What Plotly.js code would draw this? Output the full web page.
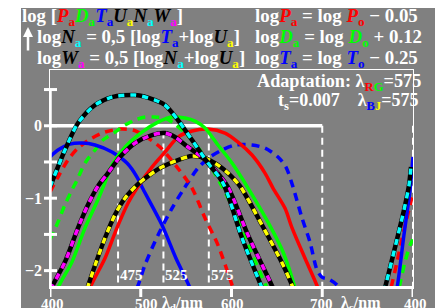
<!DOCTYPE html>
<html><head><meta charset="utf-8">
<script src="https://cdn.plot.ly/plotly-3.0.1.min.js"></script>
<style>body{margin:0;padding:0;background:#fff}#chart{width:435px;height:308px}</style>
</head><body><div id="chart"></div>
<script>
// ---- data (x: wavelength-like axis 400..700 = λd, 700..800 = λc region back to 400) ----
const bS_x = [400, 408.8, 422, 435.3, 449.6, 468.3, 484.8, 495.9, 502.5, 523.4, 538.8, 554.3, 558.7, null, 779, 782.4, 790, 796.7, 800];
const bS_y = [-0.43, -0.335, -0.253, -0.239, -0.266, -0.363, -0.515, -0.708, -0.874, -1.371, -1.83, -2.24, -2.41, null, -2.41, -2.24, -1.51, -0.89, -0.43];

const rD_x = [400, 408.8, 419.8, 430.9, 446.3, 460.6, 477.1, 491.5, 504.7, 521.2, 539.9, 556.5, 570.8, 585.1, 601.7, 606.1, null, 772.4, 775.8, 782.4, 790, 796.7, 800];
const rD_y = [-0.915, -0.708, -0.473, -0.308, -0.17, -0.087, -0.046, -0.059, -0.142, -0.294, -0.57, -0.86, -1.274, -1.647, -2.24, -2.41, null, -2.41, -2.24, -1.88, -1.44, -1.10, -0.92];

const gD_x = [400, 408.8, 416.5, 424.2, 429.8, 438.6, 449.6, 458.4, 471.6, 482.6, 493.7, 504.7, 515.7, 526.7, 537.7, 556.5, 574.1, 596.1, 618.2, 639.1, 644.6, null, 781.3, 784.6, 791.2, 796.7, 800];
const gD_y = [-1.57, -1.33, -1.09, -0.888, -0.75, -0.515, -0.335, -0.197, -0.087, 0.01, 0.079, 0.12, 0.12, 0.106, 0.023, -0.197, -0.501, -0.998, -1.647, -2.24, -2.41, null, -2.41, -2.24, -1.88, -1.65, -1.57];

const bD_x = [488.2, 495.9, 504.7, 519.0, 534.4, 546.6, 563.1, 576.3, 589.5, 603.9, 622.6, 636.9, 651.2, 660.0, 667.8, 677.7, 686.5, 694.2, 699.7, 707.4, 716.3, 721.8];
const bD_y = [-2.41, -2.24, -1.92, -1.51, -1.14, -0.888, -0.584, -0.432, -0.335, -0.266, -0.266, -0.308, -0.432, -0.57, -0.846, -1.274, -1.606, -1.99, -2.09, -2.12, -2.20, -2.34];

const rS_x = [440.8, 444.1, 460.6, 473.8, 485.9, 495.9, 512.4, 526.7, 541.0, 556.5, 574.1, 592.8, 607.2, 622.6, 636.9, 645.7, 659.0, 666.7, 681.0, 695.3, 699.5];
const rS_y = [-2.41, -2.24, -1.83, -1.41, -1.07, -0.86, -0.57, -0.364, -0.156, -0.073, -0.046, -0.101, -0.225, -0.404, -0.653, -0.86, -1.14, -1.41, -1.83, -2.24, -2.41];

const gS_x = [406.6, 408.8, 424.2, 438.6, 451.8, 459.5, 468.3, 482.6, 501.4, 519.0, 534.4, 548.8, 559.8, 570.8, 585.1, 600.6, 618.2, 640.2, 656.7, 670.0, 673.3];
const gS_y = [-2.41, -2.24, -1.88, -1.41, -1.05, -0.819, -0.543, -0.294, -0.087, 0.051, 0.12, 0.106, 0.065, -0.032, -0.266, -0.515, -0.86, -1.33, -1.74, -2.24, -2.41];

const yK_x = [437.5, 440.8, 449.6, 460.6, 471.6, 482.6, 497, 508, 521.2, 541, 556.5, 570.8, 585.1, 596.1, 609.4, 633.6, 656.7, 667.8, 671];
const yK_y = [-2.41, -2.26, -1.93, -1.55, -1.23, -1.0, -0.805, -0.695, -0.584, -0.473, -0.418, -0.446, -0.543, -0.653, -0.833, -1.37, -1.92, -2.24, -2.38];

const mK_x = [394.5, 400, 416.5, 430.9, 441.9, 452.9, 463.9, 477.1, 493.7, 512.4, 526.7, 537.7, 552.1, 567.5, 581.8, 596.1, 618.2, 645.7, 651.2];
const mK_y = [-2.41, -2.27, -1.88, -1.41, -1.09, -0.833, -0.653, -0.432, -0.239, -0.128, -0.101, -0.156, -0.294, -0.432, -0.612, -0.846, -1.51, -2.24, -2.41];

const cK_x = [400, 416.5, 430.9, 449.6, 468.3, 493.7, 515.7, 526.7, 541.0, 556.5, 574.1, 590.6, 611.6, 633.6, 644.6, null, 761.4, 769.1, 783.5, 791.2, 795.6, 797.8];
const cK_y = [-0.846, -0.335, 0.037, 0.286, 0.396, 0.424, 0.355, 0.286, 0.079, -0.197, -0.515, -0.791, -1.55, -2.24, -2.59, null, -2.61, -2.24, -1.51, -1.10, -0.82, -0.57];

const yTickVals = [0, -1, -2];
const yTickText = ['0', '\u22121', '\u22122'];
const yMarks = [0.5, 0, -0.5, -1, -1.5, -2];
const xTickVals = [400, 500, 600, 700, 800];
const xTickText = ['400', '500', '600', '700', '400'];
const xUnitAt = [500, 700];
const xUnitText = ['\u03bb<sub>d</sub>/nm', '\u03bb<sub>c</sub>/nm'];
const refLines = [475, 525, 575];
const refLabels = ['475', '525', '575'];

// ---- geometry helpers (pixel -> paper) ----
const L = 50, T = 70, W = 363, H = 218;
const pxX = x => (x - L) / W;
const pxY = y => (T + H - y) / H;

const COL = {r:'#ff0000', g:'#00ff00', b:'#0000ff', y:'#ffff00', c:'#00ffff', m:'#ff00ff', k:'#000000'};
const sp = (t, c) => `<span style="color:${c}">${t}</span>`;
const sym = (Lt, lc, s, sc) => sp('<i>' + Lt + '</i>', lc) + '<sub>' + sp(s, sc) + '</sub>';

const traces = [];
function solid(x, y, c, w) {
  traces.push({x, y, type:'scatter', mode:'lines', line:{color:c, width:w, shape:'spline', smoothing:0.8}, hoverinfo:'skip', showlegend:false});
}
function dashed(x, y, c, w, d) {
  traces.push({x, y, type:'scatter', mode:'lines', line:{color:c, width:w, dash:d, shape:'spline', smoothing:0.8}, hoverinfo:'skip', showlegend:false});
}
function duo(x, y, c) {
  solid(x, y, '#000000', 4.5);
  dashed(x, y, c, 3.5, '6px,6px');
}

dashed(bD_x, bD_y, COL.b, 3.5, '8px,6px');
dashed(rD_x, rD_y, COL.r, 3.5, '8px,6px');
dashed(gD_x, gD_y, COL.g, 3.5, '8px,6px');
solid(bS_x, bS_y, COL.b, 3.5);
solid(rS_x, rS_y, COL.r, 3.5);
solid(gS_x, gS_y, COL.g, 3.5);
duo(yK_x, yK_y, COL.y);
duo(mK_x, mK_y, COL.m);
duo(cK_x, cK_y, COL.c);

const shapes = [];
shapes.push({type:'rect', xref:'paper', yref:'paper', x0:pxX(21), x1:pxX(436), y0:pxY(309), y1:pxY(8), fillcolor:'#808080', line:{width:0}, layer:'below'});
shapes.push({type:'line', xref:'x', yref:'y', x0:400, x1:700, y0:0, y1:0, line:{color:'#ffffff', width:3.5}, layer:'below'});
refLines.forEach(v => shapes.push({type:'line', xref:'x', yref:'y', x0:v, x1:v, y0:-0.08, y1:-2.24, line:{color:'#ffffff', width:2, dash:'7px,5px'}, layer:'below'}));
[700, 800].forEach(v => shapes.push({type:'line', xref:'x', yref:'y', x0:v, x1:v, y0:0, y1:-2.24, line:{color:'#ffffff', width:2, dash:'7px,5px'}, layer:'below'}));
shapes.push({type:'line', xref:'x', yref:'y', x0:400, x1:400, y0:0.5, y1:-2.24, line:{color:'#ffffff', width:3.5}});
shapes.push({type:'line', xref:'x', yref:'y', x0:400, x1:800, y0:-2.24, y1:-2.24, line:{color:'#ffffff', width:4}});
yMarks.forEach(v => shapes.push({type:'line', xref:'paper', yref:'y', x0:pxX(44), x1:pxX(57), y0:v, y1:v, line:{color:'#ffffff', width:3}}));
xTickVals.forEach(v => shapes.push({type:'line', xref:'x', yref:'paper', x0:v, x1:v, y0:0, y1:pxY(297), line:{color:'#ffffff', width:3}}));

const FAM = 'Liberation Serif';
const font = (size) => ({family:FAM, size:size, color:'#ffffff'});
const ann = [];
function txt(text, x, y, xa, size) {
  ann.push({text:'<b>' + text + '</b>', xref:'paper', yref:'paper', x:pxX(x), y:pxY(y), xanchor:xa, yanchor:'middle', showarrow:false, font:font(size)});
}
txt('log [' + sym('P',COL.r,'a',COL.r) + sym('D',COL.g,'a',COL.g) + sym('T',COL.b,'a',COL.b) + sym('U',COL.k,'a',COL.y) + sym('N',COL.k,'a',COL.c) + sym('W',COL.k,'a',COL.m) + ']', 20, 17, 'left', 18.8);
txt('log' + sym('P',COL.r,'a',COL.r) + ' = log ' + sym('P',COL.r,'o',COL.r) + ' \u2212 0.05', 253, 17, 'left', 18.9);
txt('log' + sym('N',COL.k,'a',COL.c) + ' = 0,5 [log' + sym('T',COL.b,'a',COL.b) + '+log' + sym('U',COL.k,'a',COL.y) + ']', 35, 38, 'left', 18.9);
txt('log' + sym('D',COL.g,'a',COL.g) + ' = log ' + sym('D',COL.g,'o',COL.g) + ' + 0.12', 253, 38, 'left', 18.9);
txt('log' + sym('W',COL.k,'a',COL.m) + ' = 0,5 [log' + sym('N',COL.k,'a',COL.c) + '+log' + sym('U',COL.k,'a',COL.y) + ']', 35, 59, 'left', 18.9);
txt('log' + sym('T',COL.b,'a',COL.b) + ' = log ' + sym('T',COL.b,'o',COL.b) + ' \u2212 0.25', 253, 59, 'left', 18.9);
txt('Adaptation: \u03bb<sub>' + sp('R',COL.r) + sp('G',COL.g) + '</sub>=575', 423, 82, 'right', 18.2);
txt('t<sub>s</sub>=0.007&nbsp;&nbsp;&nbsp;&nbsp;\u03bb<sub>' + sp('B',COL.b) + sp('J',COL.y) + '</sub>=575', 420, 101, 'right', 18);

ann.push({text:'', xref:'paper', yref:'paper', x:pxX(28), y:pxY(27), showarrow:true, ax:0, ay:25, arrowcolor:'#ffffff', arrowwidth:2.5, arrowhead:2, arrowsize:0.8});

yTickVals.forEach((v, i) => ann.push({text:'<b>' + yTickText[i] + '</b>', xref:'paper', yref:'y', x:pxX(44), y:v, xanchor:'right', yanchor:'middle', showarrow:false, font:font(16)}));
const xLabShift = [2, 6, 1, -1, 2];
xTickVals.forEach((v, i) => ann.push({text:'<b>' + xTickText[i] + '</b>', xref:'x', yref:'paper', x:v, xshift:xLabShift[i], y:pxY(304), xanchor:'center', yanchor:'middle', showarrow:false, font:font(15)}));
const xUnitShift = [19, 17];
xUnitAt.forEach((v, i) => ann.push({text:'<b>' + xUnitText[i] + '</b>', xref:'x', yref:'paper', x:v, xshift:xUnitShift[i], y:pxY(303), xanchor:'left', yanchor:'middle', showarrow:false, font:font(16)}));
refLines.forEach((v, i) => ann.push({text:'<b>' + refLabels[i] + '</b>', xref:'x', yref:'paper', x:v, y:pxY(275), xanchor:'left', yanchor:'middle', showarrow:false, font:font(15)}));

const layout = {
  width:435, height:308,
  margin:{l:L, r:435 - L - W, t:T, b:308 - T - H, pad:0},
  paper_bgcolor:'#ffffff', plot_bgcolor:'rgba(0,0,0,0)',
  font:{family:FAM},
  xaxis:{range:[400, 800], showgrid:false, zeroline:false, showticklabels:false, ticks:'', showline:true, mirror:true, linecolor:'#ffffff', linewidth:1, fixedrange:true},
  yaxis:{range:[-2.24, 0.77], showgrid:false, zeroline:false, showticklabels:false, ticks:'', showline:true, mirror:true, linecolor:'#ffffff', linewidth:1, fixedrange:true},
  shapes, annotations:ann, showlegend:false
};
Plotly.newPlot('chart', traces, layout, {staticPlot:true, displayModeBar:false});
</script></body></html>
